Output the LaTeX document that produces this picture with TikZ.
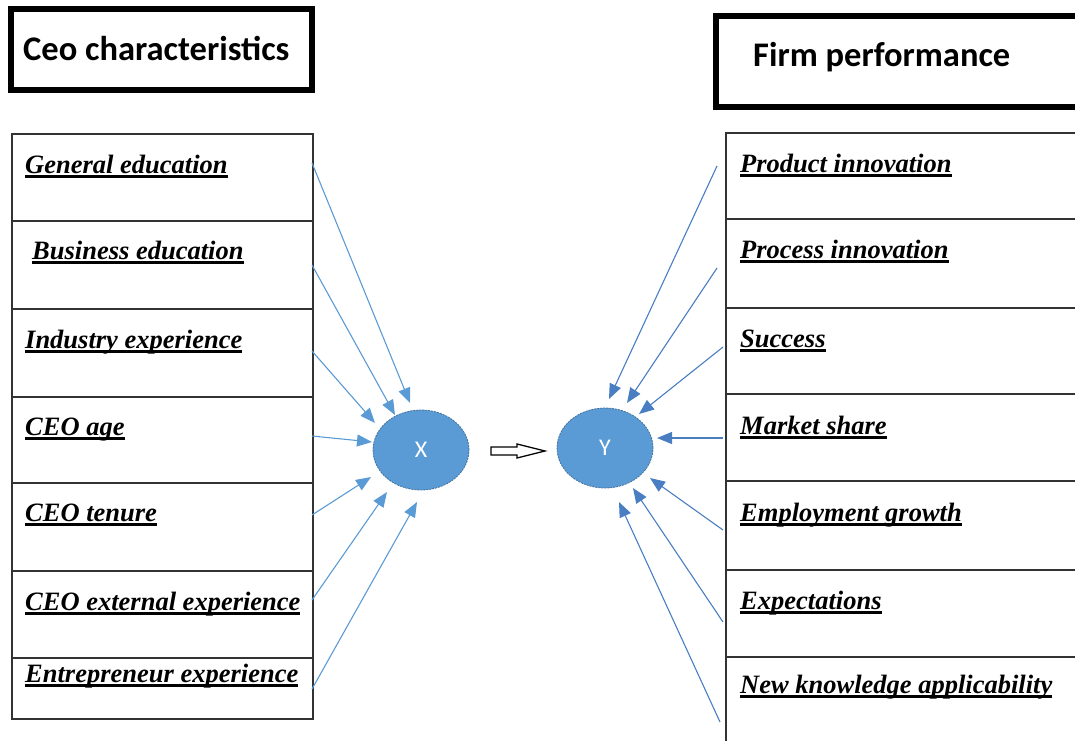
\documentclass[tikz,border=0pt]{standalone}
\usepackage{fontspec}
\setmainfont{Liberation Serif}
\newfontfamily\calibri{Carlito}
\usetikzlibrary{arrows.meta,shapes.geometric,calc}

\definecolor{ovalblue}{HTML}{5B9BD5}
\definecolor{ovaledge}{HTML}{41719C}
\definecolor{linkleft}{HTML}{5B9BD5}
\definecolor{linkright}{HTML}{4A7EC2}
\definecolor{gridline}{HTML}{333333}

% underline that sits just below the baseline and runs through descenders
\newcommand\ulword[1]{\setbox0\hbox{#1}\rlap{\vrule height -2.4pt depth 4.6pt width \wd0}\box0}

\tikzset{
  titlebox/.style={draw=black, line width=6pt, anchor=north west, inner sep=0pt, outer sep=0pt},
  titletext/.style={font=\calibri\bfseries\fontsize{34.5}{38}\selectfont, anchor=base west, inner sep=0pt},
  cell/.style={draw=gridline, line width=1.5pt, anchor=north west, inner sep=0pt, outer sep=0pt, minimum width=301pt},
  rcell/.style={draw=gridline, line width=1.5pt, anchor=north west, inner sep=0pt, outer sep=0pt, minimum width=380pt},
  item/.style={font=\bfseries\itshape\fontsize{26.5}{30}\selectfont, anchor=base west, inner sep=0pt},
  oval/.style={ellipse, fill=ovalblue, draw=ovaledge, line width=0.8pt, dash pattern=on 2pt off 1pt,
    minimum width=96pt, minimum height=80pt, inner sep=0pt, text=white,
    font=\calibri\fontsize{24}{26}\selectfont},
  linkl/.style={draw=linkleft, line width=1.1pt, -{Triangle[length=15pt,width=12pt]}},
  linkr/.style={draw=linkright, line width=1.1pt, -{Triangle[length=15pt,width=12pt]}},
  hollow/.style={draw=black, line width=1.3pt, fill=white, line join=miter},
}

\begin{document}
\begin{tikzpicture}[x=1pt,y=-1pt]
\useasboundingbox (0,0) rectangle (1075,740);
\clip (0,0) rectangle (1075,740);

% headings
\node[titlebox, minimum width=301pt, minimum height=81pt] (tl) at (11,9) {};
\node[titletext] (tlt) at (23,60) {Ceo characteristics};
\node[titlebox, minimum width=390pt, minimum height=91pt] (tr) at (716,16) {};
\node[titletext] (trt) at (753,66) {Firm performance};

% left column of cells
\node[cell, minimum height=87pt] (l1) at (12,134) {};
\node[cell, minimum height=88pt] (l2) at (12,221) {};
\node[cell, minimum height=88pt] (l3) at (12,309) {};
\node[cell, minimum height=86pt] (l4) at (12,397) {};
\node[cell, minimum height=88pt] (l5) at (12,483) {};
\node[cell, minimum height=87pt] (l6) at (12,571) {};
\node[cell, minimum height=61pt] (l7) at (12,658) {};

\node[item] (lt1) at (25,173) {\ulword{General education}};
\node[item] (lt2) at (32,259) {\ulword{Business education}};
\node[item] (lt3) at (25,348) {\ulword{Industry experience}};
\node[item] (lt4) at (25,435) {\ulword{CEO age}};
\node[item] (lt5) at (25,521) {\ulword{CEO tenure}};
\node[item] (lt6) at (25,610) {\ulword{CEO external experience}};
\node[item] (lt7) at (25,682) {\ulword{Entrepreneur experience}};

% right column of cells
\node[rcell, minimum height=86pt] (r1) at (726,133) {};
\node[rcell, minimum height=89pt] (r2) at (726,219) {};
\node[rcell, minimum height=86pt] (r3) at (726,308) {};
\node[rcell, minimum height=87pt] (r4) at (726,394) {};
\node[rcell, minimum height=89pt] (r5) at (726,481) {};
\node[rcell, minimum height=87pt] (r6) at (726,570) {};
\node[rcell, minimum height=103pt] (r7) at (726,657) {};

\node[item] (rt1) at (740,172) {\ulword{Product innovation}};
\node[item] (rt2) at (740,258) {\ulword{Process innovation}};
\node[item] (rt3) at (740,347) {\ulword{Success}};
\node[item] (rt4) at (740,434) {\ulword{Market share}};
\node[item] (rt5) at (740,521) {\ulword{Employment growth}};
\node[item] (rt6) at (740,609) {\ulword{Expectations}};
\node[item] (rt7) at (740,693) {\ulword{New knowledge applicability}};

% latent variables
\node[oval] (X) at (421,450) {X};
\node[oval] (Y) at (605,448) {Y};

% hollow arrow from X to Y
\draw[hollow] (491,447) -- (517,447) -- (517,444) -- (545,451) -- (517,458) -- (517,455) -- (491,455) -- cycle;

% indicators pointing into X
\draw[linkl] ($(l1.east)+(-1,-14.5)$) -- ($(X.center)+(-11,-47)$);
\draw[linkl] ($(l2.east)+(-1,0)$)     -- ($(X.center)+(-26,-35)$);
\draw[linkl] ($(l3.east)+(-1,-2)$)    -- ($(X.center)+(-46,-27)$);
\draw[linkl] ($(l4.east)+(-1,-4)$)    -- ($(X.center)+(-49,-8)$);
\draw[linkl] ($(l5.east)+(-1,-12)$)   -- ($(X.center)+(-50,27)$);
\draw[linkl] ($(l6.east)+(-1,-14.5)$) -- ($(X.center)+(-34,42)$);
\draw[linkl] ($(l7.east)+(-1,0.5)$)   -- ($(X.center)+(-4,52)$);

% indicators pointing into Y
\draw[linkr] ($(r1.west)+(-9,-10)$)  -- ($(Y.center)+(4,-49)$);
\draw[linkr] ($(r2.west)+(-9,4.5)$)  -- ($(Y.center)+(22,-45)$);
\draw[linkr] ($(r3.west)+(-3,-4)$)   -- ($(Y.center)+(34,-34)$);
\draw[linkr] ($(r4.west)+(-3,0.5)$)  -- ($(Y.center)+(52,-10)$);
\draw[linkr] ($(r5.west)+(-3,4.5)$)  -- ($(Y.center)+(45,30)$);
\draw[linkr] ($(r6.west)+(-3,8.5)$)  -- ($(Y.center)+(28,40)$);
\draw[linkr] ($(r7.west)+(-6,13.5)$) -- ($(Y.center)+(14,54)$);
\end{tikzpicture}
\end{document}
